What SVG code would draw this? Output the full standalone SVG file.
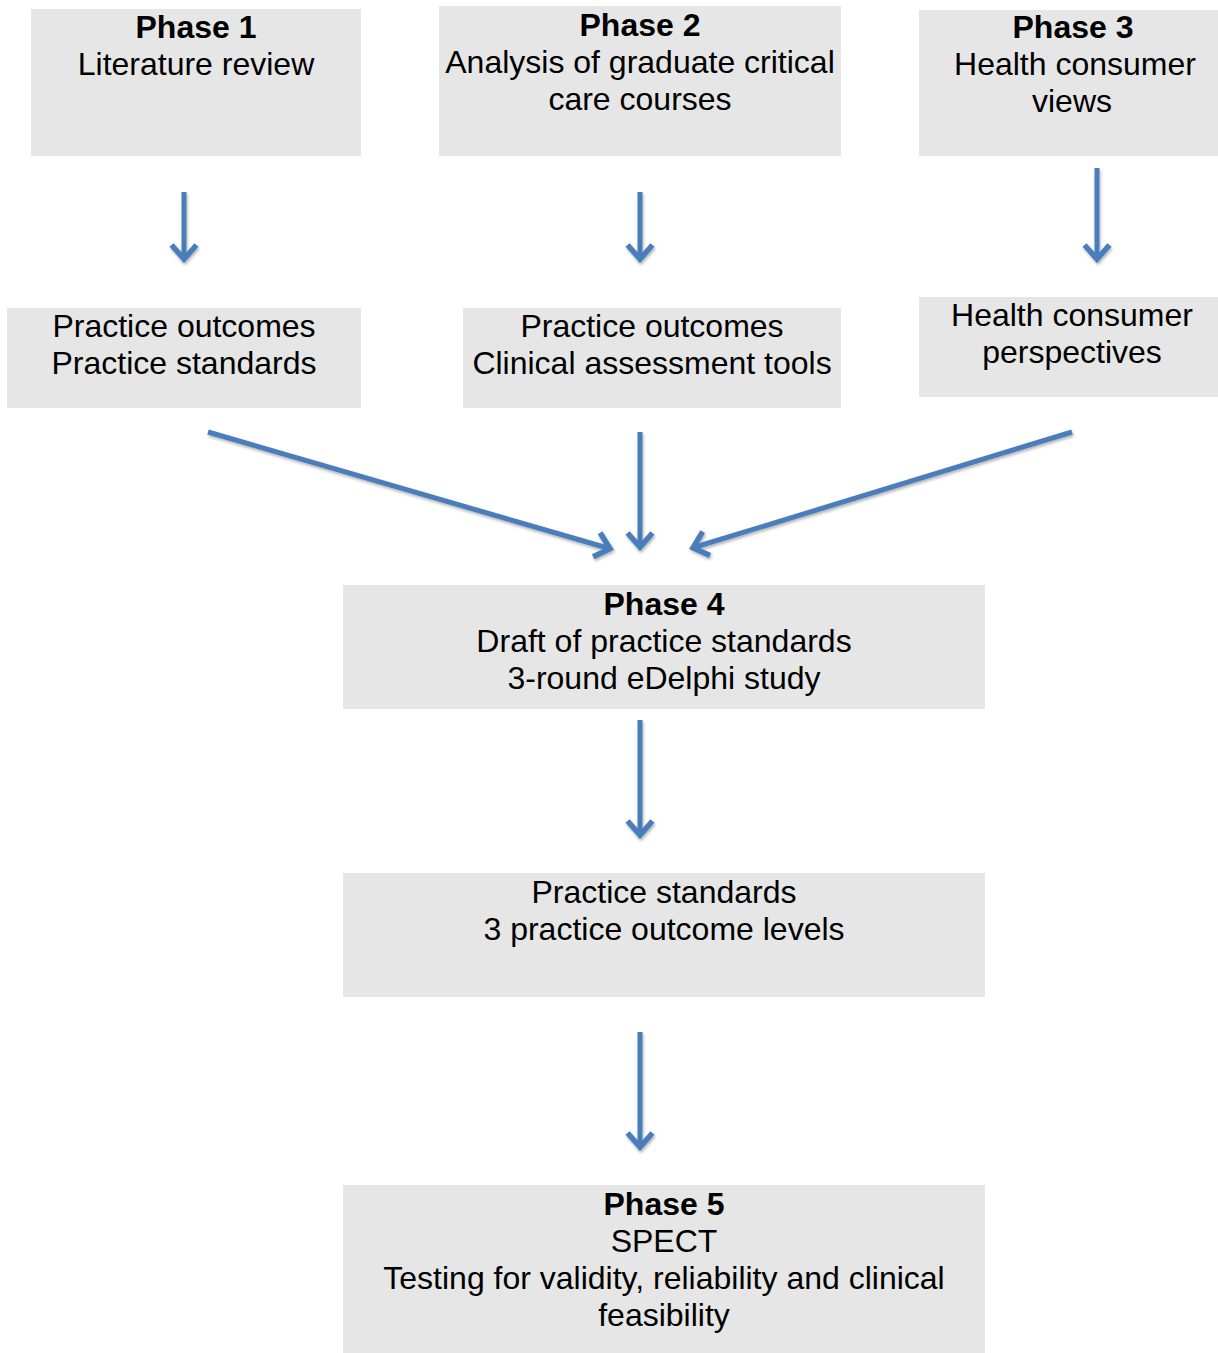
<svg xmlns="http://www.w3.org/2000/svg" width="1218" height="1353" viewBox="0 0 1218 1353">
<style>
.box{fill:#e6e6e6}
text{font-family:"Liberation Sans",Arial,sans-serif;font-size:32px;fill:#000;text-anchor:middle}
.b{font-weight:bold}
.c line{stroke:#4a7ebb;stroke-width:5;fill:none}
</style>
<defs>
<filter id="sh" x="-20%" y="-20%" width="140%" height="140%">
<feDropShadow dx="1" dy="2" stdDeviation="1.5" flood-color="#000" flood-opacity="0.3"/>
</filter>
<marker id="ah" markerUnits="userSpaceOnUse" viewBox="-22 -18 26 36" refX="0" refY="0" markerWidth="26" markerHeight="36" orient="auto">
<path d="M-15,-12.5 L-1,0 L-15,12.5" fill="none" stroke="#4a7ebb" stroke-width="5.5"/>
</marker>
</defs>
<rect width="1218" height="1353" fill="#fff"/>
<g id="phase1"><rect class="box" x="31" y="9" width="330" height="147"/><text x="196" y="38" class="b">Phase 1</text><text x="196" y="75">Literature review</text></g>
<g id="phase2"><rect class="box" x="439" y="6" width="402" height="150"/><text x="640" y="36" class="b">Phase 2</text><text x="640" y="73">Analysis of graduate critical</text><text x="640" y="110">care courses</text></g>
<g id="phase3"><rect class="box" x="919" y="10" width="299" height="146"/><text x="1073" y="38" class="b">Phase 3</text><text x="1075" y="75">Health consumer</text><text x="1072" y="112">views</text></g>
<g id="out1"><rect class="box" x="7" y="308" width="354" height="100"/><text x="184" y="337">Practice outcomes</text><text x="184" y="374">Practice standards</text></g>
<g id="out2"><rect class="box" x="463" y="308" width="378" height="100"/><text x="652" y="337">Practice outcomes</text><text x="652" y="374">Clinical assessment tools</text></g>
<g id="out3"><rect class="box" x="919" y="297" width="299" height="100"/><text x="1072" y="326">Health consumer</text><text x="1072" y="363">perspectives</text></g>
<g id="phase4"><rect class="box" x="343" y="585" width="642" height="124"/><text x="664" y="615" class="b">Phase 4</text><text x="664" y="652">Draft of practice standards</text><text x="664" y="689">3-round eDelphi study</text></g>
<g id="standards"><rect class="box" x="343" y="873" width="642" height="124"/><text x="664" y="903">Practice standards</text><text x="664" y="940">3 practice outcome levels</text></g>
<g id="phase5"><rect class="box" x="343" y="1185" width="642" height="168"/><text x="664" y="1215" class="b">Phase 5</text><text x="664" y="1252">SPECT</text><text x="664" y="1289">Testing for validity, reliability and clinical</text><text x="664" y="1326">feasibility</text></g>
<g id="connectors" class="c" filter="url(#sh)">
<line x1="184" y1="192" x2="184" y2="260" marker-end="url(#ah)"/>
<line x1="640" y1="192" x2="640" y2="260" marker-end="url(#ah)"/>
<line x1="1097" y1="168" x2="1097" y2="260" marker-end="url(#ah)"/>
<line x1="208" y1="432" x2="611" y2="549" marker-end="url(#ah)"/>
<line x1="640" y1="432" x2="640" y2="548" marker-end="url(#ah)"/>
<line x1="1072" y1="432" x2="692" y2="548" marker-end="url(#ah)"/>
<line x1="640" y1="720" x2="640" y2="836" marker-end="url(#ah)"/>
<line x1="640" y1="1032" x2="640" y2="1148" marker-end="url(#ah)"/>
</g>
</svg>
